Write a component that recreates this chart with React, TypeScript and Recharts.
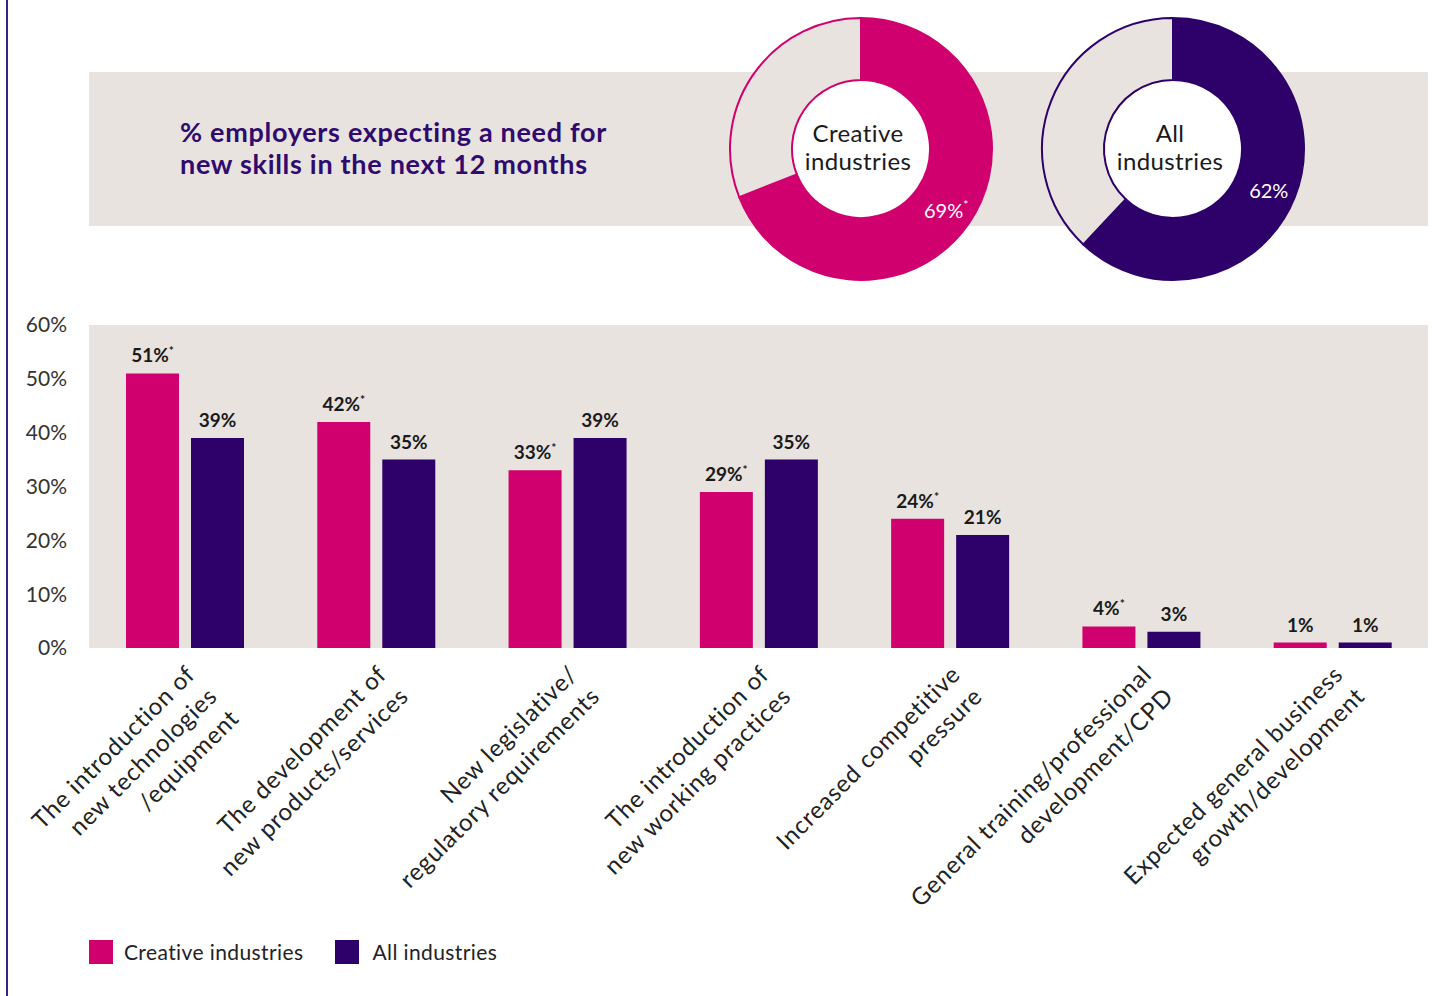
import { BarChart, Bar, XAxis, YAxis, CartesianGrid, LabelList, PieChart, Pie, Cell } from "recharts";

const categories = [
  ["The introduction of", "new technologies", "/equipment"],
  ["The development of", "new products/services"],
  ["New legislative/", "regulatory requirements"],
  ["The introduction of", "new working practices"],
  ["Increased competitive", "pressure"],
  ["General training/professional", "development/CPD"],
  ["Expected general business", "growth/development"],
];
const creativeValues = [51, 42, 33, 29, 24, 4, 1];
const allValues = [39, 35, 39, 35, 21, 3, 1];
const creativeStar = [true, true, true, true, true, true, false];
const yTicks = [0, 10, 20, 30, 40, 50, 60];

const donutNames = [["Creative", "industries"], ["All", "industries"]];
const donutValues = [69, 62];
const donutStar = [true, false];

const PINK = "#d0006f";
const NAVY = "#2e0069";
const GREY = "#e8e3df";
const FONT = "Lato, 'Open Sans', sans-serif";

const barData = categories.map((lines, i) => ({
  name: lines.join(" "),
  creative: creativeValues[i],
  all: allValues[i],
}));

const RADIAN = Math.PI / 180;

function CategoryTick(props: any) {
  const { x, y, index } = props;
  const lines = categories[index] || [];
  return (
    <g transform={`translate(${x + 12},${y + 20}) rotate(-45)`}>
      <text textAnchor="end" fontSize={24} letterSpacing={0.8} fill="#222" fontFamily={FONT}>
        {lines.map((l, i) => (
          <tspan key={i} x={0} dy={i === 0 ? 0 : 31}>
            {l}
          </tspan>
        ))}
      </text>
    </g>
  );
}

function makeBarLabel(stars: boolean[] | null) {
  return (props: any) => {
    const { x, y, width, value, index } = props;
    const star = stars ? stars[index] : false;
    return (
      <text
        x={x + width / 2}
        y={y - 11}
        textAnchor="middle"
        fontSize={19}
        fontWeight={700}
        fill="#1a1a1a"
        fontFamily={FONT}
      >
        {value}%
        {star && (
          <tspan fontSize={12} dy={-7}>
            *
          </tspan>
        )}
      </text>
    );
  };
}

function Donut({ idx, color, left }: { idx: number; color: string; left: number }) {
  const value = donutValues[idx];
  const data = [
    { name: "need", value },
    { name: "rest", value: 100 - value },
  ];
  const renderPct = (p: any) => {
    if (p.index !== 0) return null;
    const r = (p.innerRadius + p.outerRadius) / 2 + 3;
    const px = p.cx + r * Math.cos(-p.midAngle * RADIAN);
    const py = p.cy + r * Math.sin(-p.midAngle * RADIAN);
    return (
      <text x={px} y={py + 3} textAnchor="middle" dominantBaseline="central" fill="#fff" fontSize={20} fontFamily={FONT}>
        {value}%
        {donutStar[idx] && (
          <tspan fontSize={12} dy={-6}>
            *
          </tspan>
        )}
      </text>
    );
  };
  return (
    <div style={{ position: "absolute", left, top: 9, width: 280, height: 280 }}>
      <PieChart width={280} height={280} margin={{ top: 0, right: 0, bottom: 0, left: 0 }}>
        <Pie
          data={[{ name: "hole", value: 1 }]}
          dataKey="value"
          cx={140}
          cy={140}
          innerRadius={0}
          outerRadius={70}
          fill="#fff"
          stroke="none"
          isAnimationActive={false}
        />
        <Pie
          data={data}
          dataKey="value"
          cx={140}
          cy={140}
          startAngle={90}
          endAngle={-270}
          innerRadius={69}
          outerRadius={131}
          label={renderPct}
          labelLine={false}
          isAnimationActive={false}
        >
          <Cell fill={color} stroke={color} strokeWidth={2} />
          <Cell fill={GREY} stroke={color} strokeWidth={2} />
        </Pie>
      </PieChart>
      <div
        style={{
          position: "absolute",
          left: -3,
          top: 110,
          width: 280,
          textAlign: "center",
          fontFamily: FONT,
          fontSize: 24,
          letterSpacing: 0.4,
          lineHeight: "28px",
          color: "#1a1a1a",
        }}
      >
        {donutNames[idx].map((t) => (
          <div key={t}>{t}</div>
        ))}
      </div>
    </div>
  );
}

export default function App() {
  return (
    <div
      style={{
        position: "absolute",
        left: 0,
        top: 0,
        width: 1432,
        height: 996,
        background: "#fff",
        fontFamily: FONT,
        overflow: "hidden",
      }}
    >
      <div style={{ position: "absolute", left: 6, top: 0, width: 2, height: 996, background: "#3a2388" }} />
      <div style={{ position: "absolute", left: 89, top: 72, width: 1339, height: 154, background: GREY }} />
      <div
        style={{
          position: "absolute",
          left: 180,
          top: 116,
          fontSize: 27,
          fontWeight: 700,
          letterSpacing: 0.7,
          lineHeight: "32px",
          color: "#300a6e",
        }}
      >
        % employers expecting a need for
        <br />
        new skills in the next 12 months
      </div>

      <Donut idx={0} color={PINK} left={721} />
      <Donut idx={1} color={NAVY} left={1033} />

      <div style={{ position: "absolute", left: 0, top: 300 }}>
        <BarChart
          width={1432}
          height={696}
          data={barData}
          margin={{ top: 25, right: 4, left: 0, bottom: 0 }}
          barGap={12}
          barSize={53}
        >
          <CartesianGrid fill={GREY} horizontal={false} vertical={false} />
          <XAxis
            dataKey="name"
            height={348}
            interval={0}
            axisLine={false}
            tickLine={false}
            tick={<CategoryTick />}
          />
          <YAxis
            width={89}
            domain={[0, 60]}
            ticks={yTicks}
            tickFormatter={(v) => `${v}%`}
            axisLine={false}
            tickLine={false}
            tickMargin={16}
            tick={{ fontSize: 21, fill: "#333", fontFamily: FONT }}
          />
          <Bar dataKey="creative" fill={PINK} isAnimationActive={false}>
            <LabelList dataKey="creative" content={makeBarLabel(creativeStar)} />
          </Bar>
          <Bar dataKey="all" fill={NAVY} isAnimationActive={false}>
            <LabelList dataKey="all" content={makeBarLabel(null)} />
          </Bar>
        </BarChart>
      </div>

      <div style={{ position: "absolute", left: 89, top: 939, display: "flex", alignItems: "center", fontSize: 21, letterSpacing: 0.4, color: "#222" }}>
        <div style={{ width: 24, height: 24, background: PINK }} />
        <span style={{ marginLeft: 11 }}>Creative industries</span>
        <div style={{ width: 24, height: 24, background: NAVY, marginLeft: 32 }} />
        <span style={{ marginLeft: 13 }}>All industries</span>
      </div>
    </div>
  );
}
